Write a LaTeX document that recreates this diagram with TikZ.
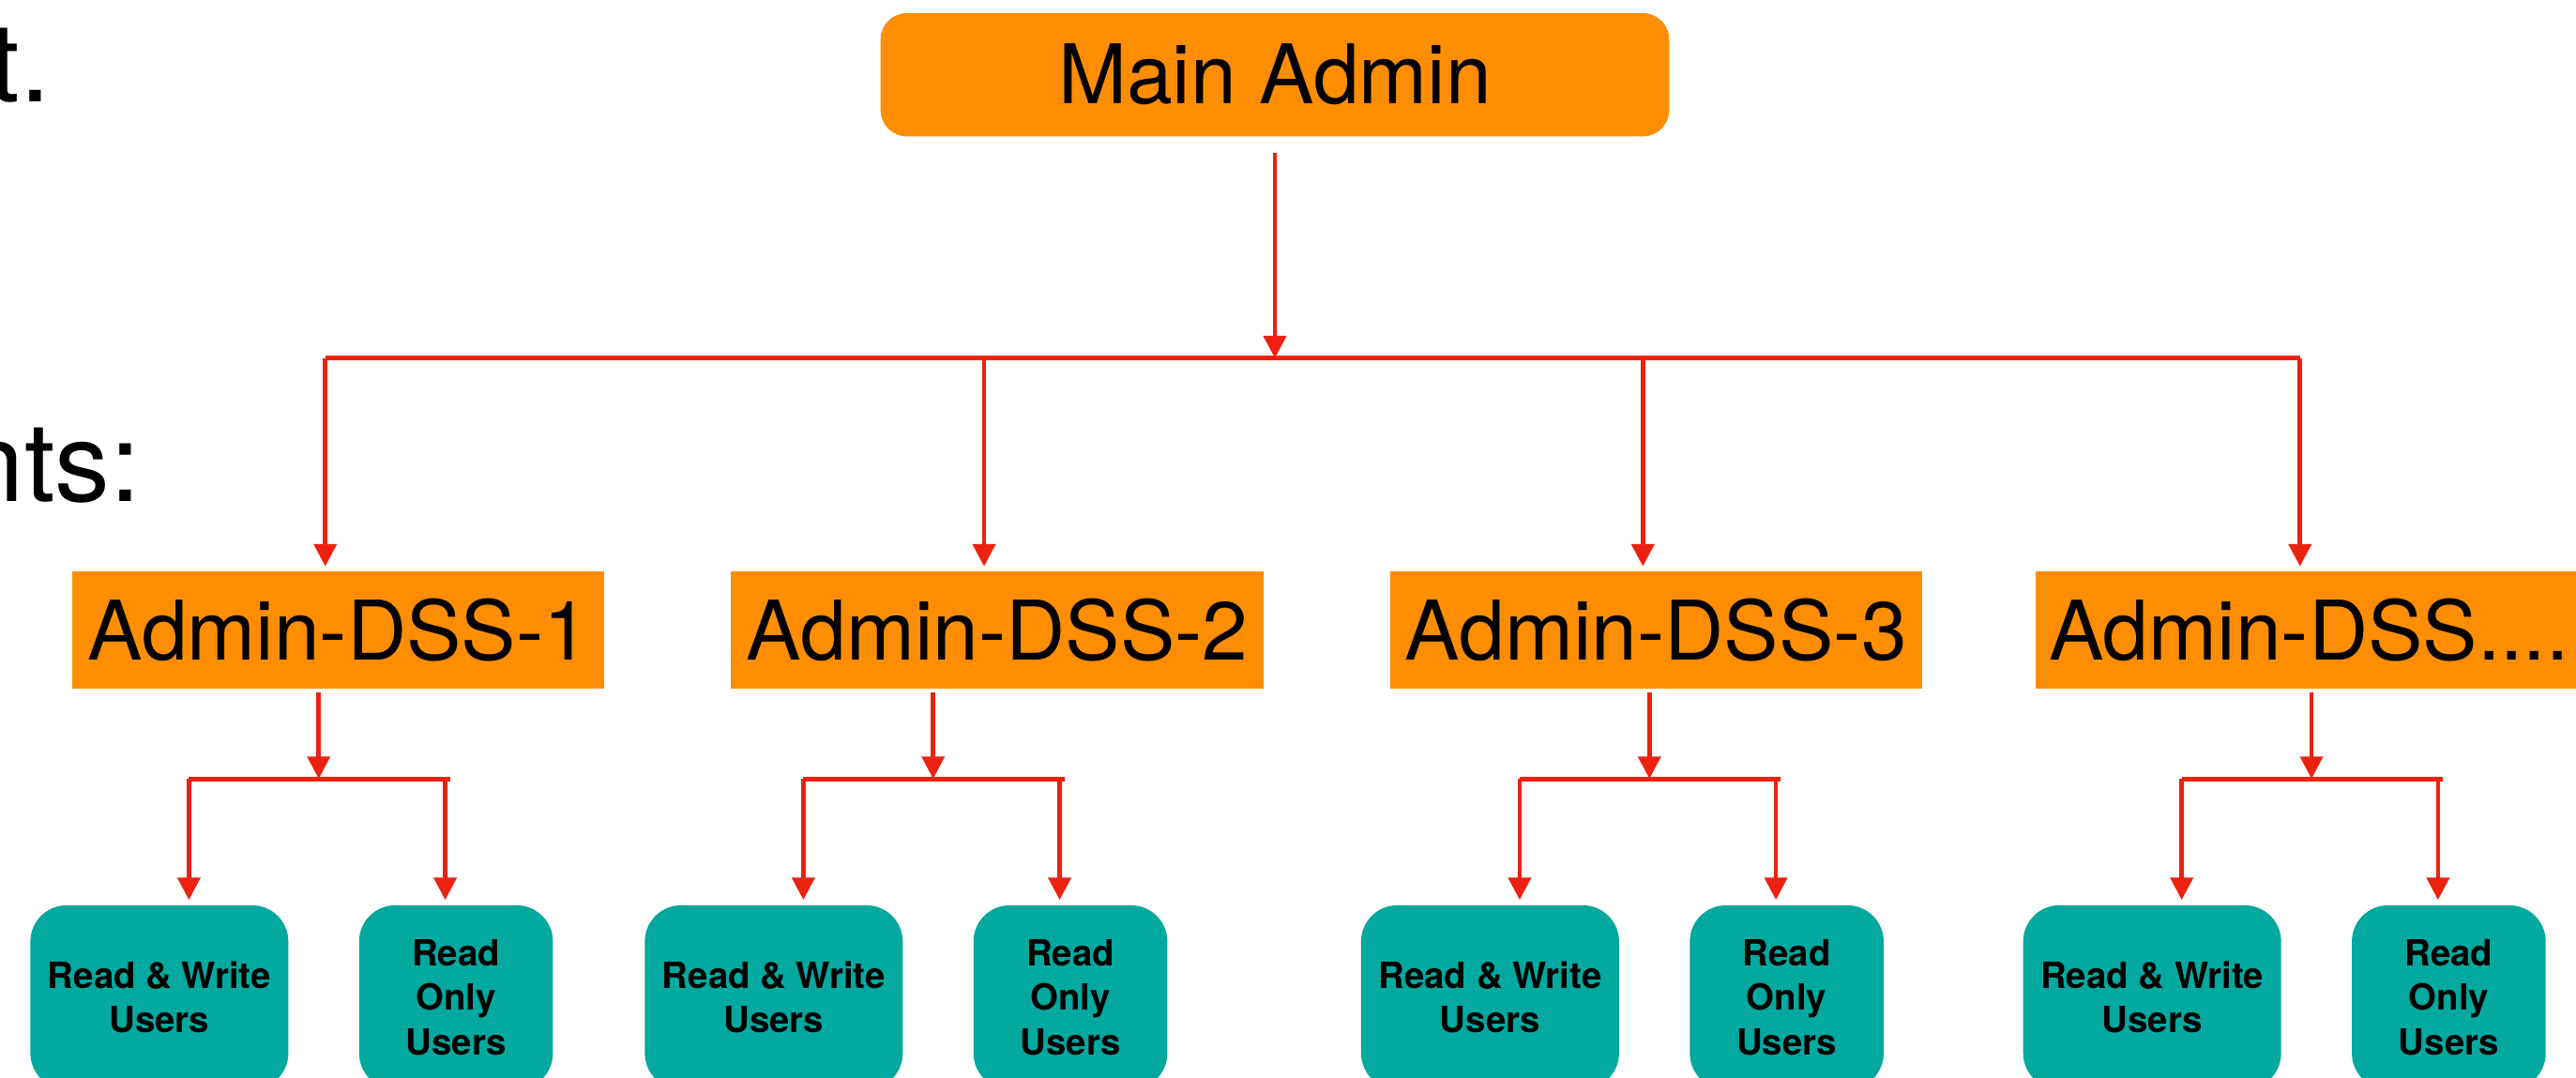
\documentclass[tikz,border=0pt]{standalone}
\usepackage{fontspec}
\setmainfont{TeX Gyre Heros}
\usetikzlibrary{positioning,arrows.meta}

\definecolor{adminorange}{RGB}{253,141,3}
\definecolor{userteal}{RGB}{3,168,158}
\definecolor{linkred}{RGB}{236,34,17}

\begin{document}
\begin{tikzpicture}[x=0.25mm, y=-0.25mm,
    admin/.style={fill=adminorange, inner sep=0pt, font=\fontsize{35.6}{42}\selectfont},
    users/.style={fill=userteal, rounded corners=5.5mm, minimum height=28mm, inner sep=0pt,
        align=center, font=\fontsize{15.6}{19.2}\selectfont\bfseries},
    slide/.style={anchor=base east, inner sep=0pt, font=\fontsize{47.7}{57}\selectfont},
    link/.style={draw=linkred, line width=1.9pt, -{Triangle[length=3.4mm, width=3.4mm]}},
    bus/.style={draw=linkred, line width=2.1pt}]
\useasboundingbox (0,0) rectangle (1568,656);
\begin{scope}
\clip (0,0) rectangle (1568,656);

\node[slide] (slidea) at (31,62) {t.};
\node[slide] (slideb) at (86,305) {nts:};

\node[admin, rounded corners=4mm, minimum width=120mm, minimum height=18.75mm] (main) at (776,45.5) {Main Admin};

\node[admin, minimum width=81mm, minimum height=17.75mm] (dss1) at (206,383.5) {Admin-DSS-1};
\node[admin, minimum width=81mm, minimum height=17.75mm] (dss2) at (607,383.5) {Admin-DSS-2};
\node[admin, minimum width=81mm, minimum height=17.75mm] (dss3) at (1008,383.5) {Admin-DSS-3};
\node[admin, minimum width=83.25mm, minimum height=17.75mm] (dss4) at (1405.5,383.5) {Admin-DSS....};

% main admin down to the bus
\coordinate (hub) at (776,218);
\draw[link, shorten <=2.5mm] (main.south) -- (hub);
\coordinate (b1) at (198,218);
\coordinate (b2) at (599,218);
\coordinate (b3) at (1000,218);
\coordinate (b4) at (1400,218);
\draw[bus] (b1) -- (b4);
\foreach \i in {1,...,4}
    \draw[link, shorten >=0.75mm] (b\i) -- (b\i |- dss\i.north);

% users under each admin
\foreach \i/\a in {1/194, 2/568, 3/1004, 4/1407} {
    \node[users, minimum width=39.25mm] (rw\i) at (\a-97,607) {Read \& Write\\Users};
    \node[users, minimum width=29.5mm, right=10.625mm of rw\i] (ro\i) {Read\\Only\\Users};
    \coordinate (s\i) at (\a,474);
    \coordinate (sl\i) at (\a-79,474);
    \coordinate (sr\i) at (\a+77,474);
    \coordinate (se\i) at (\a+80,474);
    \draw[link, shorten <=0.5mm] (s\i |- dss\i.south) -- (s\i);
    \draw[bus] (sl\i) -- (se\i);
    \draw[link, shorten >=0.75mm] (sl\i) -- (sl\i |- rw\i.north);
    \draw[link, shorten >=0.75mm] (sr\i) -- (sr\i |- ro\i.north);
}
\end{scope}
\end{tikzpicture}
\end{document}
